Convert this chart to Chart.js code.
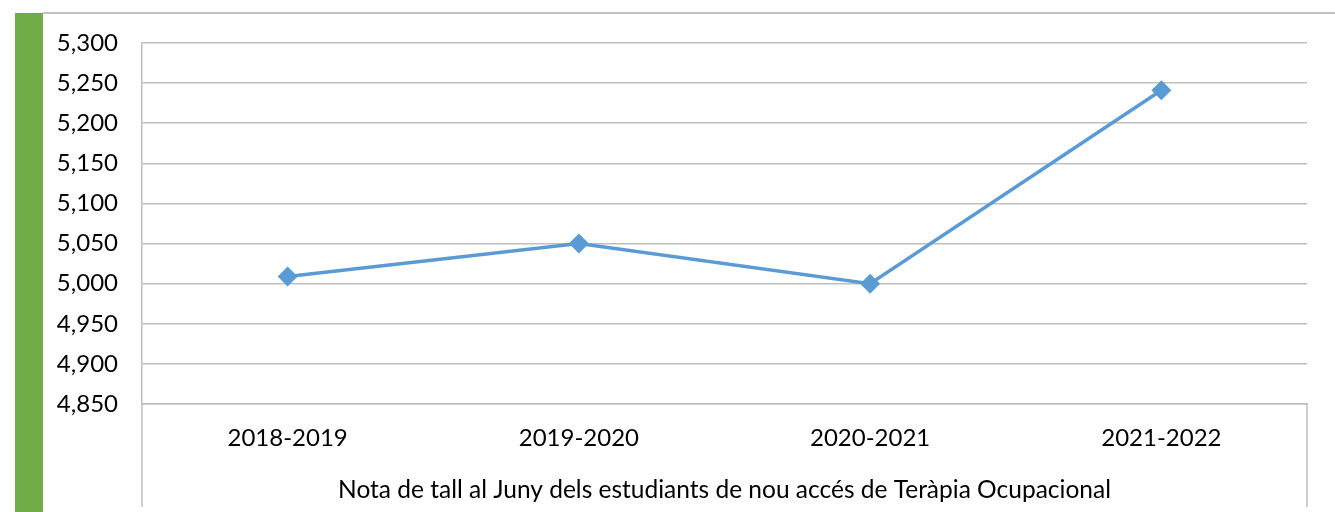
<!DOCTYPE html>
<html>
<head>
<meta charset="utf-8">
<script src="https://cdn.jsdelivr.net/npm/chart.js@4/dist/chart.umd.min.js"></script>
<style>
  html, body { margin: 0; padding: 0; background: #fff; }
  #wrap { position: relative; width: 1335px; height: 512px; overflow: hidden; }
  #green { position: absolute; left: 15px; top: 13px; width: 28px; height: 499px; background: #70ad47; }
  #topline { position: absolute; left: 43px; top: 12px; width: 1292px; height: 2px; background: #c0c0c0; }
  #box { position: absolute; left: 0; top: 0; width: 1335px; height: 512px; }
</style>
</head>
<body>
<div id="wrap">
  <div id="green"></div>
  <div id="topline"></div>
  <div id="box"><canvas id="notaChart"></canvas></div>
</div>
<script>
var cursos = ['2018-2019', '2019-2020', '2020-2021', '2021-2022'];
var notes = [5.009, 5.050, 5.000, 5.241];
var yMin = 4.85, yMax = 5.30, yStep = 0.05;
var titolEix = 'Nota de tall al Juny dels estudiants de nou accés de Teràpia Ocupacional';

// vertical lines of the category axis going down under the plot
var axisLines = {
  id: 'axisLines',
  afterDraw: function (chart) {
    var ctx = chart.ctx, a = chart.chartArea, xs = chart.scales.x;
    ctx.save();
    ctx.strokeStyle = '#bfbfbf';
    ctx.lineWidth = 1.5;
    ctx.beginPath();
    ctx.moveTo(a.left, a.bottom);
    ctx.lineTo(a.left, xs.bottom);
    ctx.moveTo(a.right, a.bottom);
    ctx.lineTo(a.right, xs.bottom);
    ctx.stroke();
    ctx.restore();
  }
};

var ctx = document.getElementById('notaChart').getContext('2d');
var notaChart = new Chart(ctx, {
  type: 'line',
  data: {
    labels: cursos,
    datasets: [{
      label: 'Nota de tall',
      data: notes,
      borderColor: '#5b9bd5',
      backgroundColor: '#5b9bd5',
      borderWidth: 3.5,
      pointStyle: 'rectRot',
      pointRadius: 7.5,
      pointHoverRadius: 7.5,
      fill: false,
      tension: 0
    }]
  },
  options: {
    responsive: true,
    maintainAspectRatio: false,
    animation: false,
    layout: { padding: { left: 42, top: 43, right: 28, bottom: 5 } },
    plugins: { legend: { display: false }, tooltip: { enabled: false } },
    scales: {
      x: {
        offset: true,
        afterFit: function (s) { s.height = 103; },
        grid: { display: false, drawTicks: false },
        border: { display: true, color: '#bfbfbf', width: 1.5 },
        ticks: { color: '#000', padding: 20, font: { family: 'Lato', size: 24 } },
        title: {
          display: true,
          text: titolEix,
          color: '#000',
          padding: { top: 0, bottom: 2 },
          font: { family: 'Lato', size: 24.5 }
        }
      },
      y: {
        min: yMin,
        max: yMax,
        afterFit: function (s) { s.width = 100; },
        grid: { color: '#bfbfbf', lineWidth: 1.5, drawTicks: false },
        border: { display: true, color: '#bfbfbf', width: 1.5 },
        ticks: {
          stepSize: yStep,
          color: '#000',
          padding: 24,
          font: { family: 'Lato', size: 24 },
          callback: function (v) { return Number(v).toFixed(3).replace('.', ','); }
        }
      }
    }
  },
  plugins: [axisLines]
});
</script>
</body>
</html>
